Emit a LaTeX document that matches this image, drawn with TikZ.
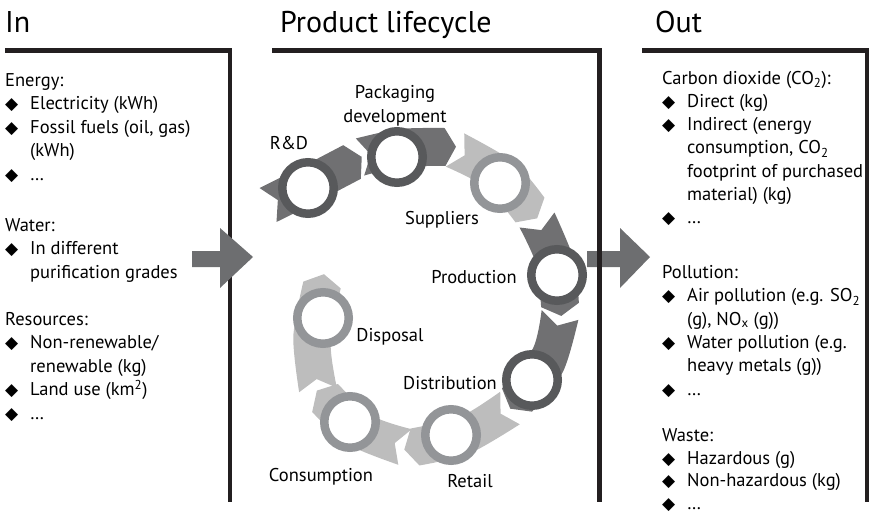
\documentclass[tikz,border=0pt]{standalone}
\usepackage{fontspec}
\setmainfont{PT Sans}
\newfontfamily\symfont{DejaVu Sans}
\usetikzlibrary{calc}

\definecolor{ringdark}{HTML}{58595B}
\definecolor{ringlight}{HTML}{939598}
\definecolor{segdark}{HTML}{707072}
\definecolor{seglight}{HTML}{BDBDBD}
\definecolor{bigarrow}{HTML}{6D6E70}
\definecolor{panelline}{HTML}{231F20}

% bullet and hanging indent for the lists
\newcommand{\dia}{\makebox[25pt][l]{\symfont\fontsize{17}{17}\selectfont ◆}}
\newcommand{\ind}{\hspace*{25pt}}

% one chevron piece of the cycle: tail, middle, head, colour
\newcommand{\cycleseg}[4]{%
  \path (#1) coordinate (t) (#2) coordinate (m) (#3) coordinate (h);
  \path ($(t)!19pt!90:(m)$) coordinate (tl)
        ($(t)!19pt!-90:(m)$) coordinate (tr)
        ($(t)!11pt!(m)$) coordinate (tn)
        ($(m)!19pt!90:(h)$) coordinate (ml)
        ($(m)!19pt!-90:(h)$) coordinate (mr)
        ($(h)!19pt!-90:(m)$) coordinate (hl)
        ($(h)!19pt!90:(m)$) coordinate (hr)
        ($(h)!-11pt!(m)$) coordinate (hp);
  \fill[#4] (tn) -- plot[smooth] coordinates {(tl) (ml) (hl)} -- (hp)
        -- plot[smooth] coordinates {(hr) (mr) (tr)} -- cycle;
}

\begin{document}
\begin{tikzpicture}[x=1pt, y=-1pt,
    every node/.style={font=\fontsize{18.5}{23.5}\selectfont, inner sep=0pt},
    title/.style={font=\fontsize{30}{34}\selectfont, anchor=base west},
    panel/.style={line width=4.5pt, draw=panelline},
    listtext/.style={anchor=north west, align=left},
    outtext/.style={listtext, font=\fontsize{18.5}{23.3}\selectfont},
    ring/.style={circle, draw, line width=8.5pt, minimum size=51.5pt, fill=white},
    darkring/.style={ring, draw=ringdark},
    lightring/.style={ring, draw=ringlight},
    stage/.style={align=center}]
    \useasboundingbox (0,0) rectangle (873,516);

    % Titles
    \node[title] (intitle)  at (5,33)   {In};
    \node[title] (lctitle)  at (280,33) {Product lifecycle};
    \node[title] (outtitle) at (655,33) {Out};

    % Out arrow (under the panel line)
    \fill[bigarrow] (587,251) -- (620,251) -- (620,228) -- (650,257) -- (620,288) -- (620,267) -- (587,267) -- cycle;

    % Panels
    \draw[panel] (5,50.5) -- (230,50.5) -- (230,502);
    \draw[panel] (272,50.5) -- (599.5,50.5) -- (599.5,502);
    \draw[panel] (642,50.5) -- (867,50.5) -- (867,502);

    % In arrow (over the panel line)
    \fill[bigarrow] (192,251) -- (220,251) -- (220,228) -- (253,257) -- (220,288) -- (220,267) -- (192,267) -- cycle;

    % In
    \node[listtext] (energy) at (5,69.5) {\strut Energy:\\
        \dia Electricity (kWh)\\
        \dia Fossil fuels (oil, gas)\\
        \ind (kWh)\\
        \dia …};
    \node[listtext] (water) at (5,214.5) {\strut Water:\\
        \dia In different\\
        \ind purification grades};
    \node[listtext] (resources) at (5,308.5) {\strut Resources:\\
        \dia Non-renewable/\\
        \ind renewable (kg)\\
        \dia Land use (km\textsuperscript{2})\\
        \dia …};

    % Out
    \node[outtext] (carbon) at (662,67.5) {\strut Carbon dioxide (CO\textsubscript{2}):\\
        \dia Direct (kg)\\
        \dia Indirect (energy\\
        \ind consumption, CO\textsubscript{2}\\
        \ind footprint of purchased\\
        \ind material) (kg)\\
        \dia …};
    \node[outtext] (pollution) at (662,262) {\strut Pollution:\\
        \dia Air pollution (e.g. SO\textsubscript{2}\\
        \ind (g), NO\textsubscript{x} (g))\\
        \dia Water pollution (e.g.\\
        \ind heavy metals (g))\\
        \dia …};
    \node[outtext, font=\fontsize{18.5}{22.5}\selectfont] (waste) at (662,426) {\strut Waste:\\
        \dia Hazardous (g)\\
        \dia Non-hazardous (kg)\\
        \dia …};

    % Cycle arrows
    \cycleseg{268,205}{308,185}{352,162}{segdark}
    \cycleseg{360,157}{400,148}{445,147}{segdark}
    \cycleseg{455,150}{500,175}{530,210}{seglight}
    \cycleseg{537,220}{555,262}{560,305}{segdark}
    \cycleseg{560,315}{548,360}{517,400}{segdark}
    \cycleseg{510,408}{465,435}{415,447}{seglight}
    \cycleseg{405,447}{360,430}{325,398}{seglight}
    \cycleseg{318,390}{312,340}{322,285}{seglight}

    % Stages
    \node[darkring]  (rd)     at (308,188) {};
    \node[darkring]  (pack)   at (397,157) {};
    \node[lightring] (supp)   at (500,183) {};
    \node[darkring]  (prod)   at (557,275) {};
    \node[darkring]  (dist)   at (532,380) {};
    \node[lightring] (retail) at (451,435) {};
    \node[lightring] (cons)   at (350,422) {};
    \node[lightring] (disp)   at (323,318) {};

    \node[stage] (rdlabel)     at (289,143) {R\&D};
    \node[stage] (packlabel)   at (395,106) {Packaging\\development};
    \node[stage] (supplabel)   at (442,220) {Suppliers};
    \node[stage] (prodlabel)   at (474,277) {Production};
    \node[stage] (displabel)   at (390,337) {Disposal};
    \node[stage] (distlabel)   at (450,383) {Distribution};
    \node[stage] (conslabel)   at (321,477) {Consumption};
    \node[stage] (retaillabel) at (470,481) {Retail};
\end{tikzpicture}
\end{document}
